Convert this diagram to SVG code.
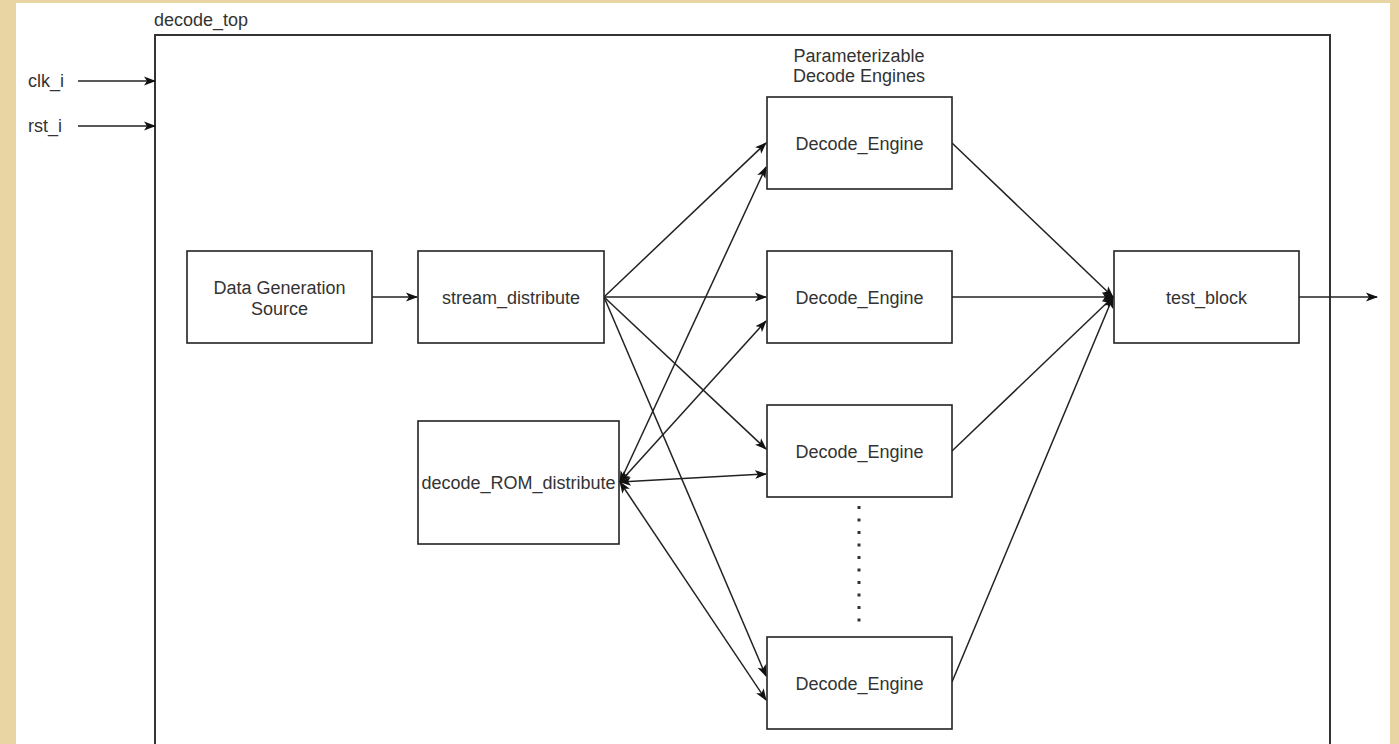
<svg xmlns="http://www.w3.org/2000/svg" width="1399" height="744" viewBox="0 0 1399 744">
<defs>
<style>
.box{fill:#fff;stroke:#222;stroke-width:1.6}
.t{font-family:"Liberation Sans",Arial,sans-serif;font-size:18px;fill:#333;text-anchor:middle}
.tl{font-family:"Liberation Sans",Arial,sans-serif;font-size:18px;fill:#333}
.c{fill:none;stroke:#222;stroke-width:1.5}
</style>
<marker id="ah" viewBox="0 0 12 10" refX="11" refY="5" markerWidth="12" markerHeight="10" markerUnits="userSpaceOnUse" orient="auto-start-reverse">
<path d="M0,0.5 L12,5 L0,9.5 L3,5 Z" fill="#111"/>
</marker>
</defs>
<rect x="0" y="0" width="1399" height="744" fill="#E9D5A4"/>
<rect x="16" y="3" width="1374" height="741" fill="#fff"/>

<g id="decode_top">
<rect x="155" y="35" width="1175" height="730" fill="none" stroke="#333" stroke-width="2"/>
<text class="tl" x="154" y="26">decode_top</text>
</g>

<g id="clk_i"><text class="tl" x="28" y="87">clk_i</text></g>
<g id="rst_i"><text class="tl" x="28" y="132">rst_i</text></g>

<g id="engines_label">
<text class="t" x="859" y="62">Parameterizable</text>
<text class="t" x="859" y="82">Decode Engines</text>
</g>

<g id="connectors">
<line class="c" x1="78" y1="81" x2="155" y2="81" marker-end="url(#ah)"/>
<line class="c" x1="78" y1="126" x2="155" y2="126" marker-end="url(#ah)"/>
<line class="c" x1="372" y1="297" x2="417" y2="297" marker-end="url(#ah)"/>
<line class="c" x1="604" y1="297" x2="766" y2="143" marker-end="url(#ah)"/>
<line class="c" x1="604" y1="297" x2="766" y2="297" marker-end="url(#ah)"/>
<line class="c" x1="604" y1="297" x2="766" y2="449" marker-end="url(#ah)"/>
<line class="c" x1="604" y1="297" x2="766" y2="676" marker-end="url(#ah)"/>
<line class="c" x1="620" y1="482" x2="766" y2="167" marker-start="url(#ah)" marker-end="url(#ah)"/>
<line class="c" x1="620" y1="482" x2="766" y2="321" marker-start="url(#ah)" marker-end="url(#ah)"/>
<line class="c" x1="620" y1="482" x2="766" y2="474" marker-start="url(#ah)" marker-end="url(#ah)"/>
<line class="c" x1="620" y1="482" x2="766" y2="700" marker-start="url(#ah)" marker-end="url(#ah)"/>
<line class="c" x1="952" y1="143" x2="1113" y2="297" marker-end="url(#ah)"/>
<line class="c" x1="952" y1="297" x2="1113" y2="297" marker-end="url(#ah)"/>
<line class="c" x1="952" y1="451" x2="1113" y2="297" marker-end="url(#ah)"/>
<line class="c" x1="952" y1="682" x2="1113" y2="297" marker-end="url(#ah)"/>
<line class="c" x1="1299" y1="297" x2="1377" y2="297" marker-end="url(#ah)"/>
<line x1="859" y1="506" x2="859" y2="622" stroke="#333" stroke-width="3" stroke-dasharray="3 9.5"/>
</g>

<g id="data_generation_source">
<rect class="box" x="187" y="251" width="185" height="92"/>
<text class="t" x="279.5" y="294">Data Generation</text>
<text class="t" x="279.5" y="315">Source</text>
</g>
<g id="stream_distribute">
<rect class="box" x="418" y="251" width="186" height="92"/>
<text class="t" x="511" y="304">stream_distribute</text>
</g>
<g id="decode_rom_distribute">
<rect class="box" x="418" y="421" width="201" height="123"/>
<text class="t" x="518.5" y="489">decode_ROM_distribute</text>
</g>
<g id="decode_engine_1">
<rect class="box" x="767" y="97" width="185" height="92"/>
<text class="t" x="859.5" y="150">Decode_Engine</text>
</g>
<g id="decode_engine_2">
<rect class="box" x="767" y="251" width="185" height="92"/>
<text class="t" x="859.5" y="304">Decode_Engine</text>
</g>
<g id="decode_engine_3">
<rect class="box" x="767" y="405" width="185" height="92"/>
<text class="t" x="859.5" y="458">Decode_Engine</text>
</g>
<g id="decode_engine_4">
<rect class="box" x="767" y="637" width="185" height="92"/>
<text class="t" x="859.5" y="690">Decode_Engine</text>
</g>
<g id="test_block">
<rect class="box" x="1114" y="251" width="185" height="92"/>
<text class="t" x="1206.5" y="304">test_block</text>
</g>
</svg>
